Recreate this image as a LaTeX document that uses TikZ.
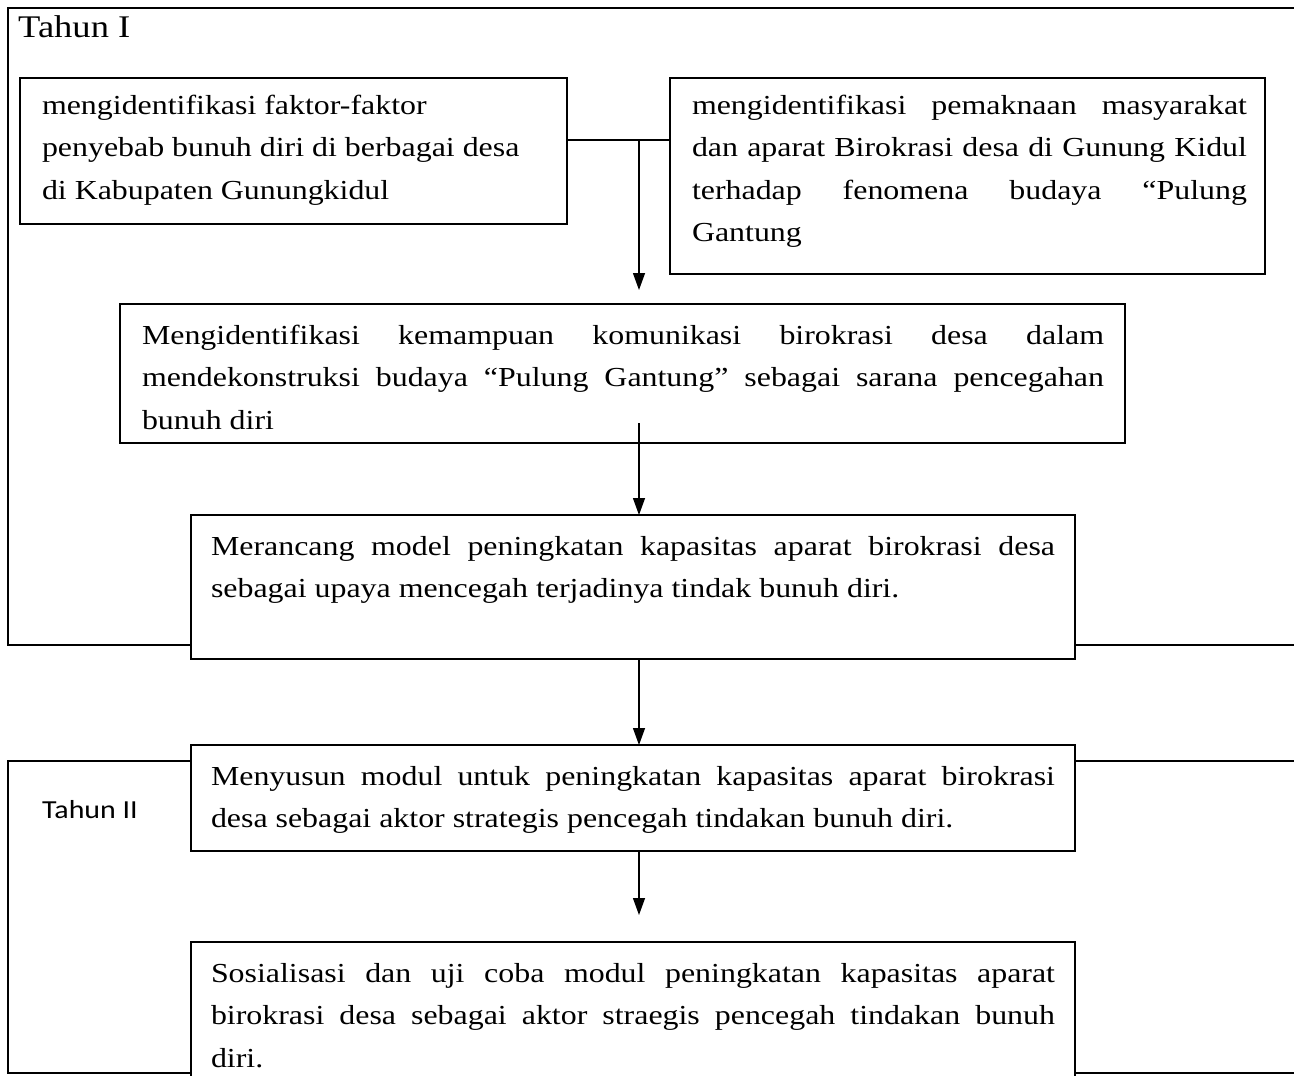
\documentclass[tikz,border=0pt]{standalone}
\usepackage{fontspec}
\setmainfont{Liberation Serif}[FakeStretch=1.16]
\newfontfamily\calib{Carlito}[FakeStretch=1.15]
\usetikzlibrary{arrows.meta}
\newcommand\jl[1]{\hbox to \linewidth{#1}}
\begin{document}
\begin{tikzpicture}[x=1pt,y=-1pt,
  boxst/.style={draw, line width=1.8pt, inner sep=0pt, outer sep=0pt, anchor=north west},
  txt/.style={inner sep=0pt, outer sep=0pt, anchor=base west, font=\fontsize{27.5}{42.5}\selectfont},
  frame/.style={line width=1.5pt},
  arr/.style={line width=1.3pt, -{Triangle[length=17pt,width=12pt]}}]
\clip (0,0) rectangle (1294,1076);
\fill[white] (0,0) rectangle (1294,1076);

% boxes
\node[boxst, minimum width=547pt, minimum height=146pt] (b1) at (20,78) {};
\node[boxst, minimum width=595pt, minimum height=196pt] (b2) at (670,78) {};
\node[boxst, minimum width=1005pt, minimum height=139pt] (b3) at (120,304) {};
\node[boxst, minimum width=884pt, minimum height=144pt] (b4) at (191,515) {};
\node[boxst, minimum width=884pt, minimum height=106pt] (b5) at (191,745) {};
\node[boxst, minimum width=884pt, minimum height=160pt] (b6) at (191,942) {};

% titles
\node[inner sep=0pt, anchor=base west, font=\fontsize{31.5}{36}\selectfont] (ty1) at (18,37) {Tahun I};
\node[inner sep=0pt, anchor=base west, font=\calib\fontsize{26}{32}\selectfont] (ty2) at (42,818) {Tahun II};

% texts
\node[txt] (t1) at (42,114) {\parbox[t]{520pt}{\raggedright mengidentifikasi faktor-faktor\\penyebab bunuh diri di berbagai desa\\di Kabupaten Gunungkidul}};
\node[txt] (t2) at (692,114) {\parbox[t]{555pt}{\jl{mengidentifikasi pemaknaan masyarakat}\jl{dan aparat Birokrasi desa di Gunung Kidul}\jl{terhadap fenomena budaya “Pulung}Gantung}};
\node[txt] (t3) at (142,344) {\parbox[t]{962pt}{\jl{Mengidentifikasi kemampuan komunikasi birokrasi desa dalam}\jl{mendekonstruksi budaya “Pulung Gantung” sebagai sarana pencegahan}bunuh diri}};
\node[txt] (t4) at (211,555) {\parbox[t]{844pt}{\jl{Merancang model peningkatan kapasitas aparat birokrasi desa}sebagai upaya mencegah terjadinya tindak bunuh diri.}};
\node[txt] (t5) at (211,785) {\parbox[t]{844pt}{\jl{Menyusun modul untuk peningkatan kapasitas aparat birokrasi}desa sebagai aktor strategis pencegah tindakan bunuh diri.}};
\node[txt] (t6) at (211,982) {\parbox[t]{844pt}{\jl{Sosialisasi dan uji coba modul peningkatan kapasitas aparat}\jl{birokrasi desa sebagai aktor straegis pencegah tindakan bunuh}diri.}};

% frames
\coordinate (f1tl) at (8,8);
\coordinate (f1tr) at (1300,8);
\coordinate (f1bl) at (8,645);
\coordinate (f1br) at (1300,645);
\draw[frame] (f1tr) -- (f1tl) -- (f1bl) -- (b4.west |- f1bl);
\draw[frame] (b4.east |- f1br) -- (f1br);
\coordinate (f2tl) at (8,761);
\coordinate (f2tr) at (1300,761);
\coordinate (f2bl) at (8,1073);
\coordinate (f2br) at (1300,1073);
\draw[frame] (b5.west |- f2tl) -- (f2tl) -- (f2bl) -- (b6.west |- f2bl);
\draw[frame] (b5.east |- f2tr) -- (f2tr);
\draw[frame] (b6.east |- f2br) -- (f2br);

% connectors
\coordinate (j) at (639,140);
\coordinate (s3) at (639,423);
\draw[line width=1.5pt] (b1.east |- j) -- (b2.west |- j);
\draw[arr, shorten >=14pt] (j) -- (b3.north -| j);
\draw[arr] (s3) -- (b4.north -| s3);
\draw[arr] (b4.south -| s3) -- (b5.north -| s3);
\draw[arr, shorten >=27pt] (b5.south -| s3) -- (b6.north -| s3);
\end{tikzpicture}
\end{document}
